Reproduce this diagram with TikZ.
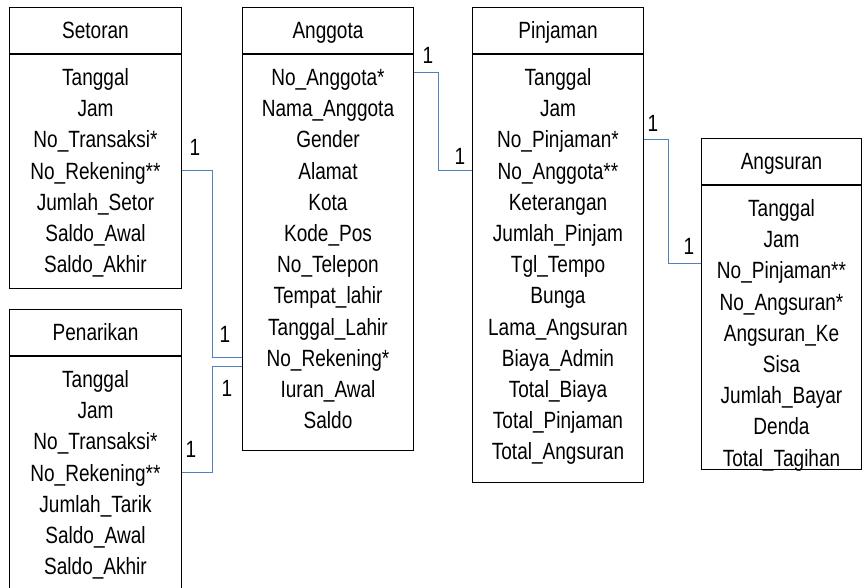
\documentclass[tikz,border=0pt]{standalone}
\usepackage{fontspec}
\setmainfont{Liberation Sans}[FakeStretch=0.81]
\usepackage{tikz}
\usetikzlibrary{calc,positioning}
\definecolor{linkblue}{RGB}{79,129,189}

\begin{document}
\begin{tikzpicture}[x=1pt,y=-1pt,font=\fontsize{23.5}{28}\selectfont,
  headbox/.style={draw, line width=1pt, minimum height=46pt, inner sep=0pt, text height=16.8pt, text depth=0pt, anchor=north west},
  bodybox/.style={draw, line width=1pt, inner sep=0pt, anchor=north west},
  attr/.style={inner sep=0pt, text height=16.8pt, text depth=0pt},
  card/.style={inner sep=0pt, text height=16.8pt, text depth=0pt},
  link/.style={linkblue, line width=0.9pt}]

\useasboundingbox (0,0) rectangle (862,587);

\def\TABEL(#1,#2)#3#4#5#6#7{%
	\begin{scope}[shift={(#1,#2)}]
	\node[headbox, minimum width=#4pt] (#3) at (0,0) {#6}; % table name
	\node[bodybox, minimum width=#4pt, minimum height=#5pt] (#3 body) at (#3.south west) {}; % field list
	\foreach \a [count=\i] in {#7}
		\node[attr] (#3 \i) at ($(#3 body.north)+(0,23+31.2*\i-31.2)$) {\a}; % one field per row
	\end{scope}
}

% Tables
\TABEL(9,7){setoran}{172}{234}{Setoran}{Tanggal,Jam,No\_Transaksi*,No\_Rekening**,Jumlah\_Setor,Saldo\_Awal,Saldo\_Akhir}
\TABEL(9,309){penarikan}{172}{245}{Penarikan}{Tanggal,Jam,No\_Transaksi*,No\_Rekening**,Jumlah\_Tarik,Saldo\_Awal,Saldo\_Akhir}
\TABEL(242,7){anggota}{171}{396}{Anggota}{No\_Anggota*,Nama\_Anggota,Gender,Alamat,Kota,Kode\_Pos,No\_Telepon,Tempat\_lahir,Tanggal\_Lahir,No\_Rekening*,Iuran\_Awal,Saldo}
\TABEL(472,7){pinjaman}{171}{428}{Pinjaman}{Tanggal,Jam,No\_Pinjaman*,No\_Anggota**,Keterangan,Jumlah\_Pinjam,Tgl\_Tempo,Bunga,Lama\_Angsuran,Biaya\_Admin,Total\_Biaya,Total\_Pinjaman,Total\_Angsuran}
\TABEL(701,138){angsuran}{160}{284}{Angsuran}{Tanggal,Jam,No\_Pinjaman**,No\_Angsuran*,Angsuran\_Ke,Sisa,Jumlah\_Bayar,Denda,Total\_Tagihan}

% Relations
\draw[link] (setoran body.east |- setoran 4) coordinate (s1) -- ++(30,0) |- (anggota body.west |- anggota 10) coordinate (a1);
\draw[link] (penarikan body.east |- penarikan 4) coordinate (p1) -- ++(30,0) |- ($(anggota body.west |- anggota 10)+(0,9)$) coordinate (a2);
\draw[link] ($(anggota body.east |- anggota 1)+(0,-5)$) coordinate (g1) -- ++(24,0) |- (pinjaman body.west |- pinjaman 4) coordinate (j1);
\draw[link] (pinjaman body.east |- pinjaman 3) coordinate (j2) -- ++(24,0) |- ($(angsuran body.west |- angsuran 3)+(0,-7)$) coordinate (n1);

% Cardinalities
\node[card] (k1) at ($(s1)+(13,-24)$) {1};
\node[card] (k2) at ($(a1)+(-17,-24)$) {1};
\node[card] (k3) at ($(p1)+(9,-24)$) {1};
\node[card] (k4) at ($(a2)+(-15,21)$) {1};
\node[card] (k5) at ($(g1)+(14,-17)$) {1};
\node[card] (k6) at ($(j1)+(-12,-15)$) {1};
\node[card] (k7) at ($(j2)+(9,-16)$) {1};
\node[card] (k8) at ($(n1)+(-12,-17)$) {1};
\end{tikzpicture}
\end{document}
